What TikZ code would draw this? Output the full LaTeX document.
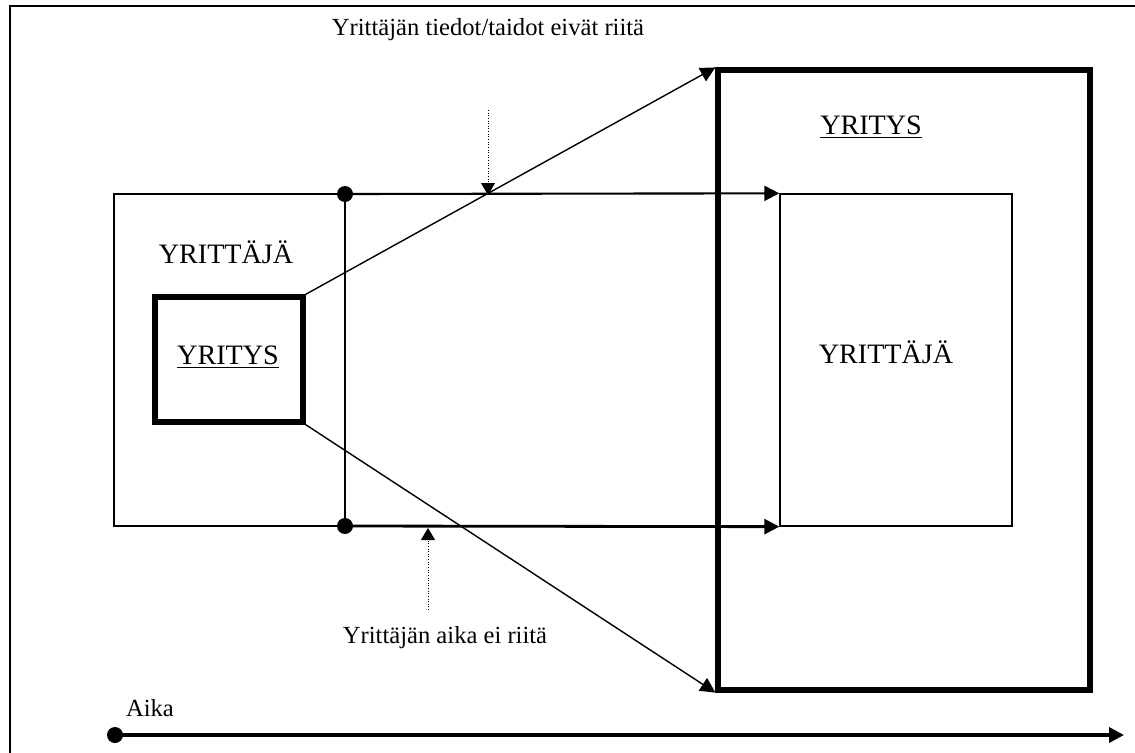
\documentclass[tikz,border=0pt]{standalone}
\usepackage{fontspec}
\setmainfont{Liberation Serif}
\usetikzlibrary{arrows.meta}

\begin{document}
\begin{tikzpicture}[
    x=0.02cm,y=-0.02cm,
    thinbox/.style={draw, line width=0.8pt, rectangle, inner sep=0pt},
    thickbox/.style={draw, line width=3pt, rectangle, inner sep=0pt},
    label/.style={font=\fontsize{14}{16}\selectfont, inner sep=0pt},
    caps/.style={font=\fontsize{16}{18}\selectfont, inner sep=0pt},
    dot/.style={circle, fill=black, inner sep=0pt, minimum size=0.32cm},
    arrow/.style={-{Triangle[length=0.3cm,width=0.3cm]}, line width=1.6pt},
    slim/.style={-{Triangle[length=0.3cm,width=0.3cm]}, line width=0.8pt},
    hint/.style={-{Triangle[length=0.24cm,width=0.28cm]}, densely dotted, line width=0.5pt}
]
    \useasboundingbox (0,0) rectangle (1135,753);

    % --- frame ---
    \draw[line width=1pt] (10,753) -- (10,6) -- (1135,6);

    % --- boxes ---
    \node[thinbox, minimum width=4.62cm, minimum height=6.64cm] (yrittaja1) at (229.5,360) {};
    \node[thinbox, minimum width=4.64cm, minimum height=6.64cm] (yrittaja2) at (896,360) {};
    \node[thickbox, minimum width=2.96cm, minimum height=2.5cm] (yritys1) at (229,359.5) {};
    \node[thickbox, minimum width=7.44cm, minimum height=12.4cm] (yritys2) at (904,380) {};

    % --- labels ---
    \node[caps] (t1) at (226,252) {YRITTÄJÄ};
    \node[caps] (t2) at (228,357) {\underline{YRITYS}};
    \node[caps] (t3) at (871,127) {\underline{YRITYS}};
    \node[caps] (t4) at (886,352) {YRITTÄJÄ};
    \node[label] (k1) at (488,30) {Yrittäjän tiedot/taidot eivät riitä};
    \node[label] (k2) at (445,638) {Yrittäjän aika ei riitä};
    \node[label] (aika) at (150,708) {Aika};

    % --- growth ---
    \node[dot] (d1) at (345,194) {};
    \node[dot] (d2) at (345,526) {};
    \draw[line width=0.8pt] (d1.center) -- (d2.center);
    \draw[arrow, line width=1.2pt] (d1.center) -- (yrittaja2.north west);
    \draw[arrow] (d2.center) -- (yrittaja2.south west);
    \draw[slim] (yritys1.north east) -- (yritys2.north west);
    \draw[slim] (yritys1.south east) -- (yritys2.south west);

    % --- hints ---
    \coordinate (h1) at (488,110);
    \coordinate (h1e) at (488,195);
    \coordinate (h2) at (428,610);
    \coordinate (h2e) at (428,528);
    \draw[hint] (h1) -- (h1e);
    \draw[hint] (h2) -- (h2e);

    % --- time axis ---
    \node[dot] (t0) at (115,735) {};
    \coordinate (tend) at (1124,735);
    \draw[arrow, line width=2pt] (t0.center) -- (tend);

\end{tikzpicture}
\end{document}
